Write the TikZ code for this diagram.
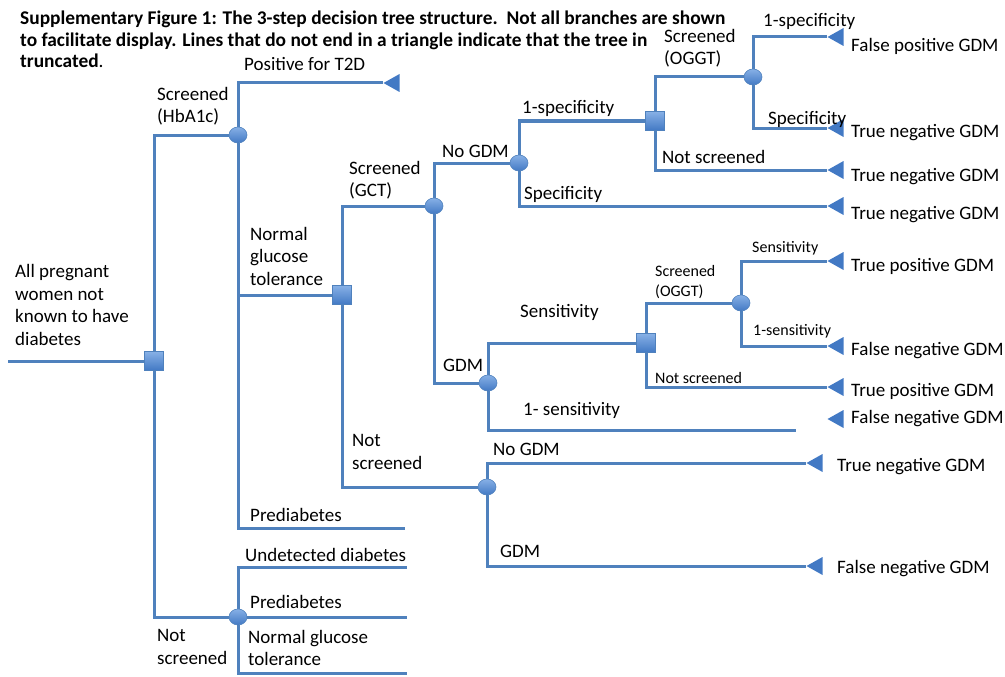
\documentclass[tikz,border=0pt]{standalone}
\usepackage{fontspec}
\setmainfont{Carlito}
\usetikzlibrary{shapes.geometric,backgrounds}
\definecolor{treeblue}{RGB}{79,129,189}
\definecolor{nodetop}{RGB}{135,176,230}
\definecolor{nodebot}{RGB}{66,121,196}

\begin{document}
\begin{tikzpicture}[x=1pt,y=-1pt,
    branch/.style={treeblue, line width=3pt},
    decision/.style={rectangle, draw=treeblue, line width=0.6pt, top color=nodetop, bottom color=nodebot, minimum size=19pt, inner sep=0pt},
    chance/.style={ellipse, draw=treeblue, line width=0.6pt, top color=nodetop, bottom color=nodebot, minimum width=18pt, minimum height=16pt, inner sep=0pt},
    terminal/.style={isosceles triangle, shape border rotate=180, isosceles triangle stretches, minimum width=18pt, minimum height=16pt, inner sep=0pt, fill=nodebot, anchor=apex},
    lbl/.style={anchor=west, inner sep=0pt, align=left, font=\fontsize{19}{22.5}\selectfont},
    small/.style={lbl, font=\fontsize{16}{20}\selectfont},
    title/.style={anchor=north west, inner sep=0pt, align=left, font=\bfseries\fontsize{19.4}{21.5}\selectfont}]
       \useasboundingbox (0,0) rectangle (1005,677);

       \node[title] (title) at (20,11) {Supplementary Figure 1: The 3-step decision tree structure.\ \ Not all branches are shown\\to facilitate display. Lines that do not end in a triangle indicate that the tree in\\truncated{\mdseries.}};

       \coordinate (start) at (8,361);
       \node[decision] (d1) at (154,361) {};
       \node[chance] (c1) at (238,135) {};
       \node[chance] (c2) at (238,617) {};
       \node[decision] (d2) at (342,295) {};
       \node[chance] (c3) at (434,206) {};
       \node[chance] (c4) at (487,487) {};
       \node[chance] (c5) at (519,163) {};
       \node[chance] (c7) at (488,383) {};
       \node[decision] (d3) at (655,121) {};
       \node[chance] (c6) at (753,77) {};
       \node[decision] (d4) at (646,343) {};
       \node[chance] (c8) at (741,303) {};

       \node[terminal] (t1) at (383,83) {};
       \node[terminal] (t2) at (827,37) {};
       \node[terminal] (t3) at (827,128) {};
       \node[terminal] (t4) at (827,170) {};
       \node[terminal] (t5) at (827,206) {};
       \node[terminal] (t6) at (827,261) {};
       \node[terminal] (t7) at (827,346) {};
       \node[terminal] (t8) at (827,387) {};
       \node[terminal] (t9) at (827,419) {};
       \node[terminal] (t10) at (806,463) {};
       \node[terminal] (t11) at (806,566) {};

       \coordinate (e1) at (405,528);
       \coordinate (e2) at (796,430);
       \coordinate (e3) at (407,567);
       \coordinate (e4) at (407,617);
       \coordinate (e5) at (407,673);

       \begin{scope}[on background layer]
       \draw[branch] (start) -- (d1);
       \draw[branch] (d1) |- (c1);
       \draw[branch] (d1) |- (c2);
       \draw[branch] (c1) |- (t1);
       \draw[branch] (c1) |- (d2);
       \draw[branch] (c1) |- (e1);
       \draw[branch] (d2) |- (c3);
       \draw[branch] (d2) |- (c4);
       \draw[branch] (c3) |- (c5);
       \draw[branch] (c3) |- (c7);
       \draw[branch] (c5) |- (d3);
       \draw[branch] (c5) |- (t5);
       \draw[branch] (d3) |- (c6);
       \draw[branch] (d3) |- (t4);
       \draw[branch] (c6) |- (t2);
       \draw[branch] (c6) |- (t3);
       \draw[branch] (c7) |- (d4);
       \draw[branch] (c7) |- (e2);
       \draw[branch] (d4) |- (c8);
       \draw[branch] (d4) |- (t8);
       \draw[branch] (c8) |- (t6);
       \draw[branch] (c8) |- (t7);
       \draw[branch] (c4) |- (t10);
       \draw[branch] (c4) |- (t11);
       \draw[branch] (c2) |- (e3);
       \draw[branch] (c2) -- (e4);
       \draw[branch] (c2) |- (e5);
       \end{scope}

       \node[lbl] (root) at (15,305) {All pregnant\\women not\\known to have\\diabetes};
       \node[lbl] (scr1) at (157,106) {Screened\\(HbA1c)};
       \node[lbl] (nscr1) at (157,647) {Not\\screened};
       \node[lbl] (pos) at (244,64) {Positive for T2D};
       \node[lbl] (ngt1) at (250,256) {Normal\\glucose\\tolerance};
       \node[lbl] (pre1) at (250,515) {Prediabetes};
       \node[lbl] (undet) at (245,555) {Undetected diabetes};
       \node[lbl] (pre2) at (250,602) {Prediabetes};
       \node[lbl] (ngt2) at (248,648) {Normal glucose\\tolerance};
       \node[lbl] (scr2) at (349,180) {Screened\\(GCT)};
       \node[lbl] (nscr2) at (352,452) {Not\\screened};
       \node[lbl] (nogdm1) at (442,151) {No GDM};
       \node[lbl] (gdm1) at (443,365) {GDM};
       \node[lbl] (nogdm2) at (493,449) {No GDM};
       \node[lbl] (gdm2) at (500,551) {GDM};
       \node[lbl] (spec1) at (522,108) {1-specificity};
       \node[lbl] (spec2) at (524,194) {Specificity};
       \node[lbl] (scr3) at (664,48) {Screened\\(OGGT)};
       \node[lbl] (nscr3) at (662,157) {Not screened};
       \node[lbl] (spec3) at (763,21) {1-specificity};
       \node[lbl] (spec4) at (768,119) {Specificity};
       \node[lbl] (sens1) at (520,312) {Sensitivity};
       \node[lbl] (sens2) at (523,410) {1- sensitivity};
       \node[small] (scr4) at (655,282) {Screened\\(OGGT)};
       \node[small] (nscr4) at (655,378) {Not screened};
       \node[small] (sens3) at (752,248) {Sensitivity};
       \node[small] (sens4) at (753,331) {1-sensitivity};

       \node[lbl] (o1) at (851,46) {False positive GDM};
       \node[lbl] (o2) at (851,133) {True negative GDM};
       \node[lbl] (o3) at (851,177) {True negative GDM};
       \node[lbl] (o4) at (851,215) {True negative GDM};
       \node[lbl] (o5) at (851,266) {True positive GDM};
       \node[lbl] (o6) at (851,351) {False negative GDM};
       \node[lbl] (o7) at (851,391) {True positive GDM};
       \node[lbl] (o8) at (851,419) {False negative GDM};
       \node[lbl] (o9) at (837,467) {True negative GDM};
       \node[lbl] (o10) at (837,569) {False negative GDM};
      \end{tikzpicture}
\end{document}
